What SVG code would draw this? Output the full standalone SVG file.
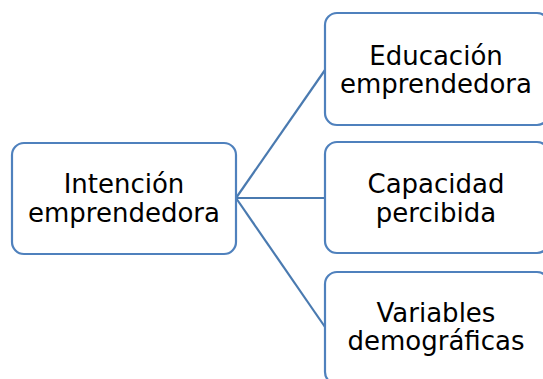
<svg xmlns="http://www.w3.org/2000/svg" width="543" height="379" viewBox="0 0 543 379">
<style>
.box{fill:#fff;stroke:#4f81bd;stroke-width:2.2}
.t{font-family:"DejaVu Sans",Verdana,sans-serif;font-size:26px;fill:#000;text-anchor:middle}
.c{stroke:#4a7ab0;stroke-width:2.2;fill:none}
</style>
<rect width="543" height="379" fill="#fff"/>
<g id="connectors">
<line class="c" x1="236" y1="198" x2="325" y2="70"/>
<line class="c" x1="236" y1="198" x2="325" y2="198"/>
<line class="c" x1="236" y1="198" x2="325" y2="327"/>
</g>
<g id="n-intencion">
<rect class="box" x="12" y="143" width="224" height="111" rx="12"/>
<text class="t" x="124" y="193">Intención</text>
<text class="t" x="124" y="222">emprendedora</text>
</g>
<g id="n-educacion">
<rect class="box" x="325" y="13" width="224" height="112" rx="12"/>
<text class="t" x="436" y="65">Educación</text>
<text class="t" x="436" y="93">emprendedora</text>
</g>
<g id="n-capacidad">
<rect class="box" x="325" y="142" width="224" height="111" rx="12"/>
<text class="t" x="436" y="193">Capacidad</text>
<text class="t" x="436" y="222">percibida</text>
</g>
<g id="n-variables">
<rect class="box" x="325" y="272" width="224" height="112" rx="12"/>
<text class="t" x="436" y="322">Variables</text>
<text class="t" x="436" y="350">demográficas</text>
</g>
</svg>
